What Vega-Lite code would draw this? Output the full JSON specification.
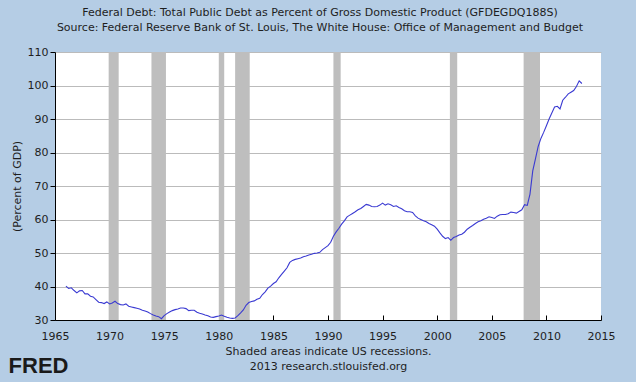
{
  "$schema": "https://vega.github.io/schema/vega-lite/v6.json",
  "width": 546,
  "height": 268,
  "autosize": {"type": "none"},
  "padding": {"left": 55, "top": 52, "right": 35, "bottom": 62},
  "background": "#B5CDE5",
  "title": {
    "text": ["Federal Debt: Total Public Debt as Percent of Gross Domestic Product (GFDEGDQ188S)", "Source: Federal Reserve Bank of St. Louis, The White House: Office of Management and Budget"],
    "anchor": "middle",
    "font": "DejaVu Sans",
    "fontSize": 11,
    "fontWeight": "normal",
    "color": "#1e1e1e",
    "lineHeight": 15,
    "offset": 13,
    "dx": -8
  },
  "config": {
    "view": {"fill": "white", "stroke": null},
    "axis": {
      "labelFont": "DejaVu Sans",
      "labelFontSize": 11,
      "labelColor": "#1e1e1e",
      "titleFont": "DejaVu Sans",
      "titleFontSize": 11,
      "titleFontWeight": "normal",
      "titleColor": "#1e1e1e",
      "domainColor": "#000000",
      "domainWidth": 1,
      "tickColor": "#000000",
      "gridColor": "#BBBBBB",
      "gridWidth": 1
    }
  },
  "resolve": {
    "scale": {"x": "independent", "y": "independent"},
    "axis": {"x": "independent", "y": "independent"}
  },
  "datasets": {
    "recessions": [
      {"start": "1969-12-01", "end": "1970-11-01"},
      {"start": "1973-11-01", "end": "1975-03-01"},
      {"start": "1980-01-01", "end": "1980-07-01"},
      {"start": "1981-07-01", "end": "1982-11-01"},
      {"start": "1990-07-01", "end": "1991-03-01"},
      {"start": "2001-03-01", "end": "2001-11-01"},
      {"start": "2007-12-01", "end": "2009-06-01"}
    ],
    "logo": [
      {"date": "1960-10-01", "value": 16.3, "label": "FRED"}
    ],
    "debt": [
      {"date": "1966-01-01", "value": 40.1}, {"date": "1966-04-01", "value": 39.4}, {"date": "1966-07-01", "value": 39.6}, {"date": "1966-10-01", "value": 38.8},
      {"date": "1967-01-01", "value": 38.1}, {"date": "1967-04-01", "value": 38.7}, {"date": "1967-07-01", "value": 38.8}, {"date": "1967-10-01", "value": 37.8},
      {"date": "1968-01-01", "value": 37.8}, {"date": "1968-04-01", "value": 37.1}, {"date": "1968-07-01", "value": 36.9}, {"date": "1968-10-01", "value": 36.1},
      {"date": "1969-01-01", "value": 35.3}, {"date": "1969-04-01", "value": 35.2}, {"date": "1969-07-01", "value": 34.9}, {"date": "1969-10-01", "value": 35.4},
      {"date": "1970-01-01", "value": 34.8}, {"date": "1970-04-01", "value": 35.1}, {"date": "1970-07-01", "value": 35.6}, {"date": "1970-10-01", "value": 34.9},
      {"date": "1971-01-01", "value": 34.6}, {"date": "1971-04-01", "value": 34.5}, {"date": "1971-07-01", "value": 34.8}, {"date": "1971-10-01", "value": 34.1},
      {"date": "1972-01-01", "value": 33.9}, {"date": "1972-04-01", "value": 33.7}, {"date": "1972-07-01", "value": 33.5}, {"date": "1972-10-01", "value": 33.3},
      {"date": "1973-01-01", "value": 32.9}, {"date": "1973-04-01", "value": 32.7}, {"date": "1973-07-01", "value": 32.4}, {"date": "1973-10-01", "value": 31.9},
      {"date": "1974-01-01", "value": 31.5}, {"date": "1974-04-01", "value": 31.2}, {"date": "1974-07-01", "value": 31.0}, {"date": "1974-10-01", "value": 30.4},
      {"date": "1975-01-01", "value": 31.3}, {"date": "1975-04-01", "value": 31.9}, {"date": "1975-07-01", "value": 32.4}, {"date": "1975-10-01", "value": 32.8},
      {"date": "1976-01-01", "value": 33.1}, {"date": "1976-04-01", "value": 33.3}, {"date": "1976-07-01", "value": 33.6}, {"date": "1976-10-01", "value": 33.6},
      {"date": "1977-01-01", "value": 33.4}, {"date": "1977-04-01", "value": 32.8}, {"date": "1977-07-01", "value": 32.9}, {"date": "1977-10-01", "value": 32.9},
      {"date": "1978-01-01", "value": 32.3}, {"date": "1978-04-01", "value": 32.0}, {"date": "1978-07-01", "value": 31.8}, {"date": "1978-10-01", "value": 31.5},
      {"date": "1979-01-01", "value": 31.3}, {"date": "1979-04-01", "value": 30.9}, {"date": "1979-07-01", "value": 30.8}, {"date": "1979-10-01", "value": 31.0},
      {"date": "1980-01-01", "value": 31.2}, {"date": "1980-04-01", "value": 31.5}, {"date": "1980-07-01", "value": 31.1}, {"date": "1980-10-01", "value": 30.8},
      {"date": "1981-01-01", "value": 30.6}, {"date": "1981-04-01", "value": 30.5}, {"date": "1981-07-01", "value": 30.6}, {"date": "1981-10-01", "value": 31.3},
      {"date": "1982-01-01", "value": 32.1}, {"date": "1982-04-01", "value": 33.0}, {"date": "1982-07-01", "value": 34.4}, {"date": "1982-10-01", "value": 35.2},
      {"date": "1983-01-01", "value": 35.5}, {"date": "1983-04-01", "value": 35.7}, {"date": "1983-07-01", "value": 36.2}, {"date": "1983-10-01", "value": 36.5},
      {"date": "1984-01-01", "value": 37.6}, {"date": "1984-04-01", "value": 38.4}, {"date": "1984-07-01", "value": 39.5}, {"date": "1984-10-01", "value": 40.1},
      {"date": "1985-01-01", "value": 40.9}, {"date": "1985-04-01", "value": 41.4}, {"date": "1985-07-01", "value": 42.6}, {"date": "1985-10-01", "value": 43.6},
      {"date": "1986-01-01", "value": 44.6}, {"date": "1986-04-01", "value": 45.6}, {"date": "1986-07-01", "value": 47.2}, {"date": "1986-10-01", "value": 47.8},
      {"date": "1987-01-01", "value": 48.1}, {"date": "1987-04-01", "value": 48.3}, {"date": "1987-07-01", "value": 48.5}, {"date": "1987-10-01", "value": 48.9},
      {"date": "1988-01-01", "value": 49.1}, {"date": "1988-04-01", "value": 49.4}, {"date": "1988-07-01", "value": 49.6}, {"date": "1988-10-01", "value": 49.9},
      {"date": "1989-01-01", "value": 50.0}, {"date": "1989-04-01", "value": 50.2}, {"date": "1989-07-01", "value": 51.0}, {"date": "1989-10-01", "value": 51.6},
      {"date": "1990-01-01", "value": 52.2}, {"date": "1990-04-01", "value": 53.2}, {"date": "1990-07-01", "value": 55.0}, {"date": "1990-10-01", "value": 56.3},
      {"date": "1991-01-01", "value": 57.4}, {"date": "1991-04-01", "value": 58.6}, {"date": "1991-07-01", "value": 59.6}, {"date": "1991-10-01", "value": 60.8},
      {"date": "1992-01-01", "value": 61.3}, {"date": "1992-04-01", "value": 61.8}, {"date": "1992-07-01", "value": 62.3}, {"date": "1992-10-01", "value": 62.9},
      {"date": "1993-01-01", "value": 63.3}, {"date": "1993-04-01", "value": 63.9}, {"date": "1993-07-01", "value": 64.5}, {"date": "1993-10-01", "value": 64.3},
      {"date": "1994-01-01", "value": 63.9}, {"date": "1994-04-01", "value": 63.8}, {"date": "1994-07-01", "value": 63.9}, {"date": "1994-10-01", "value": 64.3},
      {"date": "1995-01-01", "value": 64.9}, {"date": "1995-04-01", "value": 64.3}, {"date": "1995-07-01", "value": 64.7}, {"date": "1995-10-01", "value": 64.4},
      {"date": "1996-01-01", "value": 63.9}, {"date": "1996-04-01", "value": 64.1}, {"date": "1996-07-01", "value": 63.6}, {"date": "1996-10-01", "value": 63.2},
      {"date": "1997-01-01", "value": 62.6}, {"date": "1997-04-01", "value": 62.3}, {"date": "1997-07-01", "value": 62.3}, {"date": "1997-10-01", "value": 62.1},
      {"date": "1998-01-01", "value": 61.1}, {"date": "1998-04-01", "value": 60.4}, {"date": "1998-07-01", "value": 60.0}, {"date": "1998-10-01", "value": 59.6},
      {"date": "1999-01-01", "value": 59.3}, {"date": "1999-04-01", "value": 58.8}, {"date": "1999-07-01", "value": 58.4}, {"date": "1999-10-01", "value": 58.0},
      {"date": "2000-01-01", "value": 57.1}, {"date": "2000-04-01", "value": 56.0}, {"date": "2000-07-01", "value": 55.0}, {"date": "2000-10-01", "value": 54.3},
      {"date": "2001-01-01", "value": 54.6}, {"date": "2001-04-01", "value": 53.8}, {"date": "2001-07-01", "value": 54.6}, {"date": "2001-10-01", "value": 54.9},
      {"date": "2002-01-01", "value": 55.4}, {"date": "2002-04-01", "value": 55.6}, {"date": "2002-07-01", "value": 56.2}, {"date": "2002-10-01", "value": 57.1},
      {"date": "2003-01-01", "value": 57.7}, {"date": "2003-04-01", "value": 58.2}, {"date": "2003-07-01", "value": 58.8}, {"date": "2003-10-01", "value": 59.3},
      {"date": "2004-01-01", "value": 59.6}, {"date": "2004-04-01", "value": 60.1}, {"date": "2004-07-01", "value": 60.4}, {"date": "2004-10-01", "value": 60.8},
      {"date": "2005-01-01", "value": 60.6}, {"date": "2005-04-01", "value": 60.3}, {"date": "2005-07-01", "value": 61.0}, {"date": "2005-10-01", "value": 61.4},
      {"date": "2006-01-01", "value": 61.5}, {"date": "2006-04-01", "value": 61.5}, {"date": "2006-07-01", "value": 61.7}, {"date": "2006-10-01", "value": 62.2},
      {"date": "2007-01-01", "value": 62.1}, {"date": "2007-04-01", "value": 61.9}, {"date": "2007-07-01", "value": 62.4}, {"date": "2007-10-01", "value": 62.9},
      {"date": "2008-01-01", "value": 64.4}, {"date": "2008-04-01", "value": 64.2}, {"date": "2008-07-01", "value": 67.6}, {"date": "2008-10-01", "value": 74.5},
      {"date": "2009-01-01", "value": 78.2}, {"date": "2009-04-01", "value": 81.8}, {"date": "2009-07-01", "value": 84.2}, {"date": "2009-10-01", "value": 86.0},
      {"date": "2010-01-01", "value": 88.0}, {"date": "2010-04-01", "value": 90.0}, {"date": "2010-07-01", "value": 91.8}, {"date": "2010-10-01", "value": 93.6},
      {"date": "2011-01-01", "value": 93.8}, {"date": "2011-04-01", "value": 93.0}, {"date": "2011-07-01", "value": 95.6}, {"date": "2011-10-01", "value": 96.5},
      {"date": "2012-01-01", "value": 97.5}, {"date": "2012-04-01", "value": 98.0}, {"date": "2012-07-01", "value": 98.5}, {"date": "2012-10-01", "value": 99.7},
      {"date": "2013-01-01", "value": 101.4}, {"date": "2013-04-01", "value": 100.6}
    ]
  },
  "layer": [
    {
      "data": {"name": "recessions"},
      "mark": {"type": "rect", "color": "#BEBEBE"},
      "encoding": {
        "x": {"field": "start", "type": "temporal", "scale": {"domain": ["1965-01-01", "2015-01-01"]}, "axis": null},
        "x2": {"field": "end"}
      }
    },
    {
      "data": {"name": "debt"},
      "mark": {"type": "line", "color": "#3A3AD2", "strokeWidth": 1.1},
      "encoding": {
        "x": {
          "field": "date", "type": "temporal",
          "scale": {"domain": ["1965-01-01", "2015-01-01"]},
          "axis": {
            "values": [{"year": 1965}, {"year": 1970}, {"year": 1975}, {"year": 1980}, {"year": 1985}, {"year": 1990}, {"year": 1995}, {"year": 2000}, {"year": 2005}, {"year": 2010}, {"year": 2015}],
            "format": "%Y",
            "grid": false,
            "tickSize": -5,
            "labelPadding": 15,
            "labelFlush": false,
            "labelOverlap": false,
            "title": ["Shaded areas indicate US recessions.", "2013 research.stlouisfed.org"],
            "titleLineHeight": 15,
            "titlePadding": 4
          }
        },
        "y": {
          "field": "value", "type": "quantitative",
          "scale": {"domain": [30, 110], "nice": false, "zero": false},
          "axis": {
            "values": [30, 40, 50, 60, 70, 80, 90, 100, 110],
            "grid": true,
            "tickSize": 5,
            "labelPadding": 2,
            "labelOverlap": false,
            "labelFlush": false,
            "title": "(Percent of GDP)",
            "titlePadding": 5
          }
        }
      }
    },
    {
      "data": {"name": "logo"},
      "mark": {"type": "text", "font": "Liberation Sans", "fontWeight": "bold", "fontSize": 22, "align": "left", "baseline": "middle", "color": "#1a1a1a"},
      "encoding": {
        "x": {"field": "date", "type": "temporal", "scale": {"domain": ["1965-01-01", "2015-01-01"]}, "axis": null},
        "y": {"field": "value", "type": "quantitative", "scale": {"domain": [30, 110], "nice": false, "zero": false}, "axis": null},
        "text": {"field": "label"}
      }
    }
  ]
}
